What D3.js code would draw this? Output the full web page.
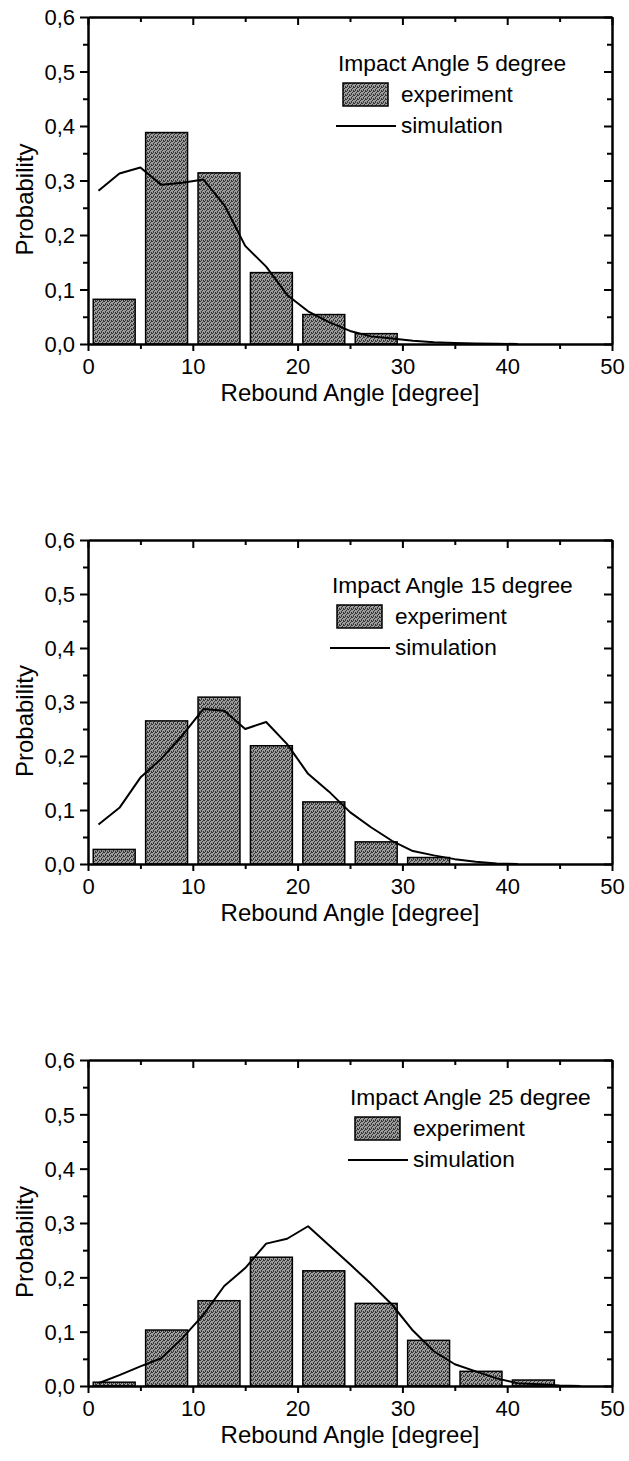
<!DOCTYPE html>
<html>
<head>
<meta charset="utf-8">
<script src="https://cdn.jsdelivr.net/npm/d3@7/dist/d3.min.js"></script>
<style>
  html, body { margin: 0; padding: 0; background: #fff; }
  svg { display: block; font-family: "Liberation Sans", Arial, Helvetica, sans-serif; }
</style>
</head>
<body>
<div id="chart"></div>
<script>
// Histogram bins: centre of each 5-degree bin
const binCenters = [2.5, 7.5, 12.5, 17.5, 22.5, 27.5, 32.5, 37.5, 42.5]

// Experiment (bars) per impact angle
const exp5  = [0.082, 0.388, 0.314, 0.131, 0.054, 0.019]
const exp15 = [0.027, 0.265, 0.309, 0.219, 0.115, 0.041, 0.012]
const exp25 = [0.007, 0.103, 0.157, 0.237, 0.212, 0.152, 0.084, 0.027, 0.011]

// Simulation (line) sample angles and values
const simAngles = [1, 3, 5, 7, 9, 11, 13, 15, 17, 19, 21, 23, 25, 27, 29, 31, 33, 35, 37, 39, 41, 43, 45, 47]
const sim5  = [0.281, 0.313, 0.324, 0.292, 0.296, 0.302, 0.255, 0.180, 0.142, 0.090, 0.060, 0.040, 0.024, 0.014, 0.010, 0.006, 0.003, 0.002, 0.001, 0.0005, 0]
const sim15 = [0.073, 0.104, 0.160, 0.195, 0.238, 0.287, 0.284, 0.250, 0.263, 0.222, 0.167, 0.134, 0.096, 0.068, 0.043, 0.024, 0.016, 0.009, 0.004, 0.001, 0]
const sim25 = [0.005, 0.020, 0.036, 0.051, 0.088, 0.131, 0.184, 0.217, 0.262, 0.271, 0.294, 0.259, 0.224, 0.188, 0.150, 0.102, 0.064, 0.040, 0.027, 0.014, 0.005, 0.003, 0.001, 0]

const impactAngles = [5, 15, 25]
const xTicks = [0, 10, 20, 30, 40, 50]
const yTicks = [0, 0.1, 0.2, 0.3, 0.4, 0.5, 0.6]

const width = 629, height = 1461
const margin = { left: 88, right: 17 }
const innerW = width - margin.left - margin.right

// layout of the three panels (top, plot height, legend offset)
const panels = [
  { angle: impactAngles[0], exp: exp5,  sim: sim5,  top: 17,   h: 327, lx: 338, ly: 54 },
  { angle: impactAngles[1], exp: exp15, sim: sim15, top: 540,  h: 324, lx: 332, ly: 53 },
  { angle: impactAngles[2], exp: exp25, sim: sim25, top: 1060, h: 326, lx: 350, ly: 45 },
]

const svg = d3.select("#chart").append("svg")
  .attr("width", width)
  .attr("height", height)

// stippled fill like the printed bars
const pat = svg.append("defs").append("pattern")
  .attr("id", "stipple")
  .attr("width", 4).attr("height", 4)
  .attr("patternUnits", "userSpaceOnUse")
pat.append("rect").attr("width", 4).attr("height", 4).attr("fill", "#9c9c9c")
;[[0, 0], [2, 1], [1, 2], [3, 3], [3, 0], [1, 3]].forEach(([px, py]) => {
  pat.append("rect").attr("x", px).attr("y", py).attr("width", 1).attr("height", 1).attr("fill", "#353535")
})

const x = d3.scaleLinear().domain([0, 50]).range([0, innerW])
const fmtY = d => d3.format(".1f")(d).replace(".", ",")

panels.forEach(p => {
  const y = d3.scaleLinear().domain([0, 0.6]).range([p.h, 0])
  const g = svg.append("g").attr("transform", `translate(${margin.left},${p.top})`)

  // Bars
  g.selectAll(".bar")
    .data(p.exp)
    .enter().append("rect")
    .attr("class", "bar")
    .attr("x", (d, i) => x(binCenters[i] - 2))
    .attr("width", x(4) - x(0))
    .attr("y", d => y(d))
    .attr("height", d => y(0) - y(d))
    .attr("fill", "url(#stipple)")
    .attr("stroke", "#000")
    .attr("stroke-width", 1.5)

  // Simulation line
  const pts = p.sim.map((v, i) => [simAngles[i], v])
  g.append("path")
    .datum(pts)
    .attr("fill", "none")
    .attr("stroke", "#000")
    .attr("stroke-width", 2)
    .attr("stroke-linejoin", "round")
    .attr("d", d3.line().x(d => x(d[0])).y(d => y(d[1])))

  // Axes: bottom / left outward, top / right inward
  const minorX = d3.range(5, 50, 10)
  const minorY = d3.range(0.05, 0.6, 0.1)

  const bottom = g.append("g").attr("transform", `translate(0,${p.h})`)
    .call(d3.axisBottom(x).tickValues(xTicks).tickSize(7).tickSizeOuter(0).tickPadding(7).tickFormat(d3.format("d")))
  bottom.selectAll("text").attr("font-size", 22).attr("fill", "#000")
  g.append("g").attr("transform", `translate(0,${p.h})`)
    .call(d3.axisBottom(x).tickValues(minorX).tickSize(5).tickSizeOuter(0).tickFormat(""))

  const left = g.append("g")
    .call(d3.axisLeft(y).tickValues(yTicks).tickSize(8).tickSizeOuter(0).tickPadding(5).tickFormat(fmtY))
  left.selectAll("text").attr("font-size", 22).attr("fill", "#000").attr("dy", "0.36em")
  g.append("g")
    .call(d3.axisLeft(y).tickValues(minorY).tickSize(5).tickSizeOuter(0).tickFormat(""))

  g.append("g")
    .call(d3.axisTop(x).tickValues(xTicks).tickSize(-8).tickSizeOuter(0).tickFormat(""))
  g.append("g")
    .call(d3.axisTop(x).tickValues(minorX).tickSize(-5).tickSizeOuter(0).tickFormat(""))
  g.append("g").attr("transform", `translate(${innerW},0)`)
    .call(d3.axisRight(y).tickValues(yTicks).tickSize(-8).tickSizeOuter(0).tickFormat(""))
  g.append("g").attr("transform", `translate(${innerW},0)`)
    .call(d3.axisRight(y).tickValues(minorY).tickSize(-5).tickSizeOuter(0).tickFormat(""))

  g.selectAll(".domain").attr("stroke", "#000").attr("stroke-width", 2)
  g.selectAll(".tick line").attr("stroke", "#000").attr("stroke-width", 2)

  // Axis titles
  g.append("text")
    .attr("x", innerW / 2).attr("y", p.h + 57)
    .attr("text-anchor", "middle")
    .attr("font-size", 24)
    .text("Rebound Angle [degree]")

  g.append("text")
    .attr("transform", `translate(${33 - margin.left},${p.h / 2 + 19}) rotate(-90)`)
    .attr("text-anchor", "middle")
    .attr("font-size", 24)
    .text("Probability")

  // Legend
  const lg = svg.append("g").attr("transform", `translate(${p.lx},${p.top + p.ly})`)
  lg.append("text").attr("x", 0).attr("y", 0).attr("font-size", 22.8).text(`Impact Angle ${p.angle} degree`)
  lg.append("rect")
    .attr("x", 5).attr("y", 12).attr("width", 45).attr("height", 23)
    .attr("fill", "url(#stipple)").attr("stroke", "#000").attr("stroke-width", 1.5)
  lg.append("text").attr("x", 63).attr("y", 31).attr("font-size", 22.6).text("experiment")
  lg.append("line")
    .attr("x1", -2).attr("x2", 58).attr("y1", 55).attr("y2", 55)
    .attr("stroke", "#000").attr("stroke-width", 2)
  lg.append("text").attr("x", 63).attr("y", 62).attr("font-size", 22.6).text("simulation")
})
</script>
</body>
</html>
